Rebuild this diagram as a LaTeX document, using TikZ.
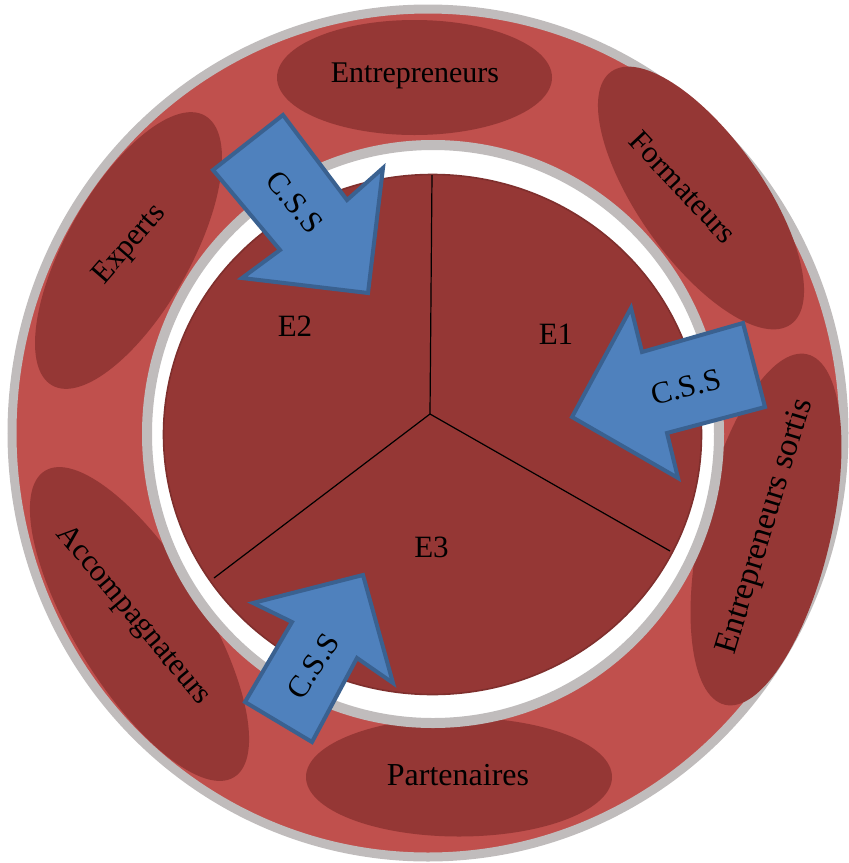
\documentclass[tikz,border=0pt]{standalone}
\usepackage{fontspec}
\setmainfont{Liberation Serif}
\usetikzlibrary{shapes.geometric}
\definecolor{ringred}{HTML}{C0504D}
\definecolor{darkred}{HTML}{953735}
\definecolor{ringgray}{HTML}{C0BCBC}
\definecolor{cssblue}{HTML}{4F81BD}
\definecolor{cssedge}{HTML}{3A6190}
\begin{document}
\begin{tikzpicture}[x=0.5pt,y=-0.5pt,
  blob/.style={ellipse, fill=darkred, inner sep=0pt},
  lbl/.style={font=\fontsize{15.5}{18}\selectfont, inner sep=0pt, text=black},
  cssarrow/.style={fill=cssblue, draw=cssedge, line width=2pt, line join=miter},
  sector/.style={draw=black, line width=0.6pt}]
\useasboundingbox (0,0) rectangle (849,863);
% outer ring
\filldraw[fill=ringred, draw=ringgray, line width=4.5pt] (428,433) ellipse [x radius=416, y radius=424];
% ellipses on the ring
\node[blob, minimum width=137.5pt, minimum height=57.5pt] (entE) at (414.5,77.5) {};
\node[blob, minimum width=155pt, minimum height=62pt, rotate=-54.6] (forE) at (701,198) {};
\node[blob, minimum width=155pt, minimum height=62pt, rotate=60.5] (expE) at (128.5,250.5) {};
\node[blob, minimum width=180pt, minimum height=65pt, rotate=-58.3] (accE) at (139.5,624) {};
\node[blob, minimum width=153pt, minimum height=59.5pt] (parE) at (459,777) {};
\node[blob, minimum width=180pt, minimum height=65pt, rotate=76.8] (sorE) at (766,529.5) {};
% inner white disc
\filldraw[fill=white, draw=ringgray, line width=5pt] (433,434) ellipse [x radius=286, y radius=289];
% pie
\node[ellipse, fill=darkred, draw=darkred!85!black, line width=0.8pt, inner sep=0pt,
      minimum width=269pt, minimum height=260pt] (pie) at (432.5,434.5) {};
\coordinate (pc) at (430,414);
\coordinate (p1) at (432,175);
\coordinate (p2) at (670,551);
\coordinate (p3) at (214,578);
\draw[sector] (pc) -- (p1);
\draw[sector] (pc) -- (p2);
\draw[sector] (pc) -- (p3);
% ring labels
\node[lbl, font=\fontsize{15}{18}\selectfont] (entT) at (415,76) {Entrepreneurs};
\node[lbl, rotate=-47] (forT) at (683,187) {Formateurs};
\node[lbl, rotate=49] (expT) at (130,245) {Experts};
\node[lbl, rotate=-50] (accT) at (133,616) {Accompagnateurs};
\node[lbl, font=\fontsize{16}{18}\selectfont] (parT) at (458,775) {Partenaires};
\node[lbl, rotate=73, font=\fontsize{16.5}{18}\selectfont] (sorT) at (766,527) {Entrepreneurs sortis};
% sector labels
\node[lbl] (e2) at (295,326) {E2};
\node[lbl] (e1) at (556,334) {E1};
\node[lbl] (e3) at (431.5,547) {E3};
% arrows
\filldraw[cssarrow] (283,115) -- (347,200) -- (383,168) -- (368,293) -- (242,278) -- (280,250) -- (213,170) -- cycle;
\filldraw[cssarrow] (743,323) -- (642,352) -- (631,308) -- (572,417) -- (678,478) -- (667,433) -- (765,407) -- cycle;
\filldraw[cssarrow] (245,702) -- (292,622) -- (253,603) -- (363,575) -- (393,683) -- (357,658) -- (312,742) -- cycle;
\node[lbl, rotate=-50] (css1) at (295,202) {C.S.S};
\node[lbl, rotate=15] (css2) at (686,387) {C.S.S};
\node[lbl, rotate=57] (css3) at (313,666) {C.S.S};
\end{tikzpicture}
\end{document}
